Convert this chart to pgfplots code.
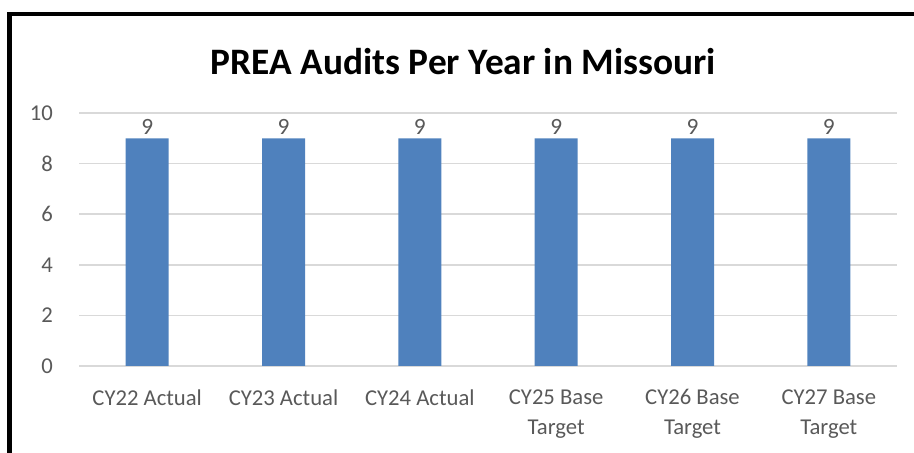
\documentclass[border=0pt]{standalone}
\usepackage{pgfplots}
\pgfplotsset{compat=1.18}
\usepackage{fontspec}
\setmainfont{Carlito}
\definecolor{barblue}{RGB}{79,129,189}
\definecolor{ticktxt}{RGB}{89,89,89}
\definecolor{gridgray}{RGB}{217,217,217}
\begin{document}
\begin{tikzpicture}
\useasboundingbox (0,0) rectangle (685.5pt,339.75pt);
\draw[line width=3.6pt, black] (7.1pt,-5pt) -- (7.1pt,329.25pt) -- (690pt,329.25pt);
\node[font=\fontsize{28}{32}\selectfont\bfseries, black] at (347.5pt,293.5pt) {PREA Audits Per Year in Missouri};
\begin{axis}[
  at={(59.25pt,65.25pt)}, anchor=south west,
  scale only axis, width=613.5pt, height=189.75pt,
  xmin=-0.5, xmax=5.5, ymin=0, ymax=10,
  axis line style={draw=none},
  ybar, bar width=32.25pt,
  xtick={0,...,5},
  xticklabels={CY22 Actual, CY23 Actual, CY24 Actual, CY25 Base\\Target, CY26 Base\\Target, CY27 Base\\Target},
  ytick={0,2,4,6,8,10},
  ymajorgrids, major grid style={gridgray, line width=1.1pt},
  major tick length=0pt, tick style={draw=none},
  /pgf/number format/assume math mode=true,
  tick label style={font=\fontsize{17}{22.5}\selectfont, text=ticktxt},
  xticklabel style={align=center, anchor=north, yshift=-14pt},
  yticklabel style={anchor=east, xshift=-16pt},
  nodes near coords,
  every node near coord/.append style={font=\fontsize{17.5}{19}\selectfont, text=ticktxt, yshift=-1pt},
  clip=false,
]
\addplot[fill=barblue, draw=none] coordinates {(0,9) (1,9) (2,9) (3,9) (4,9) (5,9)};
\end{axis}
\end{tikzpicture}
\end{document}
